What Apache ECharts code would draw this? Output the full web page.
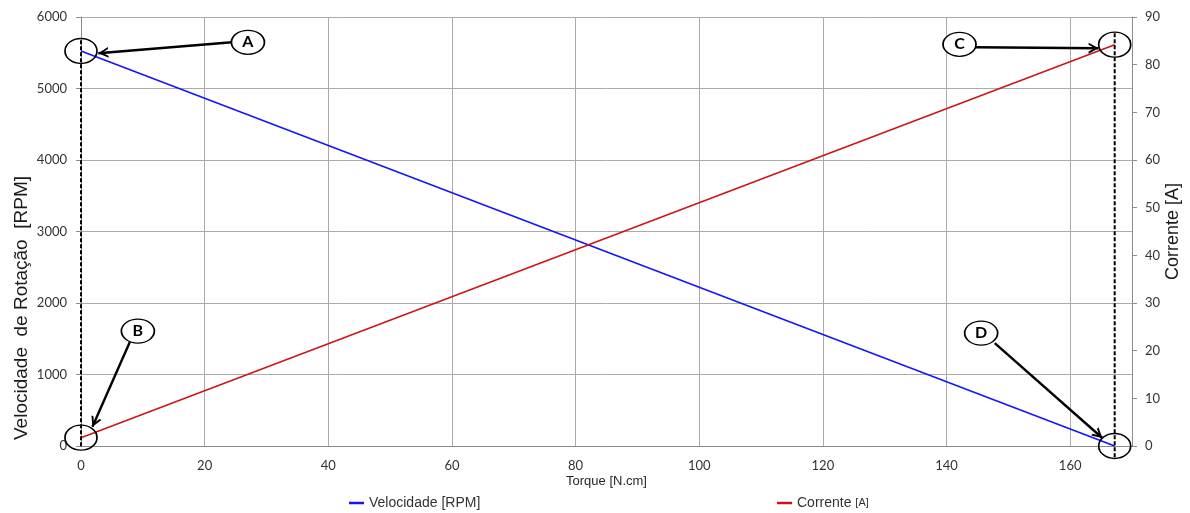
<!DOCTYPE html>
<html>
<head>
<meta charset="utf-8">
<script src="https://cdn.jsdelivr.net/npm/echarts@6/dist/echarts.min.js"></script>
<style>
  html, body { margin: 0; padding: 0; background: #ffffff; }
  #chart { width: 1190px; height: 513px; }
</style>
</head>
<body>
<div id="chart"></div>
<script>
// Motor characteristic curves: speed and current versus torque
const torque = [0, 167.2];          // N.cm
const velocidade = [5525, 0];       // RPM
const corrente = [1.75, 84.2];      // A

// Callout letters with their arrows (torque / RPM units)
const rotulos = ['A', 'B', 'C', 'D'];
const rotuloPos = [[27.0, 5646], [9.2, 1607], [142.1, 5618], [145.6, 1579]];
const setaInicio = [[24.4, 5646], [7.9, 1454], [144.7, 5577], [147.8, 1440]];
const setaFim = [[2.8, 5494], [1.85, 268], [164.6, 5563], [165.2, 112]];

// Dashed guides at no-load and stall torque: [torque, top RPM, bottom RPM]
const guias = [[torque[0], 5674, -28], [torque[1], 5772, -168]];

const FONTE_TICKS = 'Lato, "Noto Sans", sans-serif';
const FONTE_TEXTO = '"Liberation Sans", Arial, sans-serif';
const COR_TICKS = '#333333';
const COR_GRADE = '#ababab';
const COR_EIXO = '#8c8c8c';

// Open chevron arrow head; tip sits at the centre of the symbol box
const PONTA = 'path://M6,0 L12,12 L9.6,12 L6,4.6 L2.4,12 L0,12 Z M6,-12 L6.01,-12 Z';

const pares = (xs, ys) => xs.map((x, i) => [x, ys[i]]);

const circulo = (coord, nome) => ({
  name: nome,
  coord: coord,
  symbol: 'circle',
  symbolSize: [32, 25],
  itemStyle: { color: 'rgba(0,0,0,0)', borderColor: '#000', borderWidth: 1.5 },
  label: { show: false }
});

const chart = echarts.init(document.getElementById('chart'), null, { renderer: 'canvas' });

const option = {
  animation: false,
  backgroundColor: '#ffffff',
  grid: { left: 81, right: 58, top: 17, bottom: 67, containLabel: false, outerBoundsMode: 'none' },
  legend: [
    {
      data: ['Velocidade [RPM]'],
      left: 344, top: 491,
      icon: 'rect', itemWidth: 15, itemHeight: 2.5, itemGap: 0,
      textStyle: { fontFamily: FONTE_TEXTO, fontSize: 14, color: '#333' }
    },
    {
      data: ['Corrente'],
      left: 772, top: 491,
      icon: 'rect', itemWidth: 15, itemHeight: 2.5, itemGap: 0,
      formatter: (n) => n + ' {s|[A]}',
      textStyle: {
        fontFamily: FONTE_TEXTO, fontSize: 14, color: '#333',
        rich: { s: { fontFamily: FONTE_TEXTO, fontSize: 11, color: '#333' } }
      }
    }
  ],
  xAxis: {
    type: 'value',
    min: 0, max: 170, interval: 20,
    name: 'Torque [N.cm]',
    nameLocation: 'middle',
    nameGap: 29,
    nameMoveOverlap: false,
    nameTextStyle: { fontFamily: FONTE_TEXTO, fontSize: 13, color: '#262626' },
    axisLine: { show: true, lineStyle: { color: COR_EIXO, width: 1 } },
    axisTick: { show: false },
    axisLabel: {
      margin: 13, showMaxLabel: false,
      fontFamily: FONTE_TICKS, fontSize: 13, color: COR_TICKS
    },
    splitLine: { show: true, lineStyle: { color: COR_GRADE, width: 1 } }
  },
  yAxis: [
    {
      type: 'value',
      position: 'left',
      min: 0, max: 6000, interval: 1000,
      axisLine: { show: true, lineStyle: { color: COR_EIXO, width: 1 } },
      axisTick: { show: true, inside: false, length: 5, lineStyle: { color: COR_EIXO } },
      axisLabel: {
        margin: 14, fontFamily: FONTE_TICKS, fontSize: 13, color: COR_TICKS,
        formatter: (v) => String(v)
      },
      splitLine: { show: true, lineStyle: { color: COR_GRADE, width: 1 } }
    },
    {
      type: 'value',
      position: 'right',
      min: 0, max: 90, interval: 10,
      name: 'Corrente [A]',
      nameLocation: 'middle',
      nameRotate: 90,
      nameGap: 32,
      nameMoveOverlap: false,
      nameTextStyle: { fontFamily: FONTE_TEXTO, fontSize: 18, color: '#1a1a1a' },
      axisLine: { show: true, lineStyle: { color: COR_EIXO, width: 1 } },
      axisTick: { show: true, inside: false, length: 5, lineStyle: { color: COR_EIXO } },
      axisLabel: {
        margin: 13, fontFamily: FONTE_TICKS, fontSize: 13, color: COR_TICKS,
        formatter: (v) => String(v)
      },
      splitLine: { show: false }
    }
  ],
  graphic: [
    {
      type: 'text',
      silent: true,
      x: 22, y: 308,
      rotation: Math.PI / 2,
      style: {
        text: 'Velocidade  de Rotação  [RPM]',
        fontFamily: FONTE_TEXTO, fontSize: 19, fill: '#1a1a1a',
        align: 'center', verticalAlign: 'middle'
      }
    }
  ],
  series: [
    {
      name: 'Velocidade [RPM]',
      type: 'line',
      yAxisIndex: 0,
      data: pares(torque, velocidade),
      showSymbol: false,
      symbol: 'none',
      clip: false,
      color: '#1414ff',
      lineStyle: { color: '#1414ff', width: 1.6 },
      markLine: {
        silent: true,
        z: 5,
        label: { show: false },
        data: rotulos.map((r, i) => [
          { coord: setaInicio[i], symbol: 'none',
            lineStyle: { color: '#000', width: 2.4, type: 'solid' } },
          { coord: setaFim[i], symbol: PONTA, symbolSize: [11, 20] }
        ])
      },
      markPoint: {
        silent: true,
        z: 6,
        data: [
          circulo([torque[0], velocidade[0]], 'circA'),
          circulo([torque[1], velocidade[1]], 'circD'),
          ...rotulos.map((r, i) => ({
            name: r,
            coord: rotuloPos[i],
            symbol: 'circle',
            symbolSize: [33, 24],
            itemStyle: { color: '#ffffff', borderColor: '#000', borderWidth: 1.5 },
            label: {
              show: true, position: 'inside', formatter: r,
              fontFamily: 'Lato, "Liberation Sans", sans-serif',
              fontWeight: 'bold', fontSize: 16, color: '#000'
            }
          }))
        ]
      }
    },
    {
      name: 'Corrente',
      type: 'line',
      yAxisIndex: 1,
      data: pares(torque, corrente),
      showSymbol: false,
      symbol: 'none',
      clip: false,
      color: '#cc1616',
      lineStyle: { color: '#cc1616', width: 1.6 },
      markPoint: {
        silent: true,
        z: 6,
        data: [
          circulo([torque[0], corrente[0]], 'circB'),
          circulo([torque[1], corrente[1]], 'circC')
        ]
      }
    }
  ]
};

chart.setOption(option);

// Dashed vertical guides, placed through the chart's own scales
const grade = { xAxisIndex: 0, yAxisIndex: 0 };
const guiasGraficas = guias.map(([x, yTopo, yBase]) => {
  const a = chart.convertToPixel(grade, [x, yTopo]);
  const b = chart.convertToPixel(grade, [x, yBase]);
  return {
    type: 'line',
    silent: true,
    z: 4,
    shape: { x1: a[0], y1: a[1], x2: b[0], y2: b[1] },
    style: { stroke: '#000', lineWidth: 2, lineDash: [4, 2] }
  };
});
chart.setOption({ graphic: option.graphic.concat(guiasGraficas) });
</script>
</body>
</html>
